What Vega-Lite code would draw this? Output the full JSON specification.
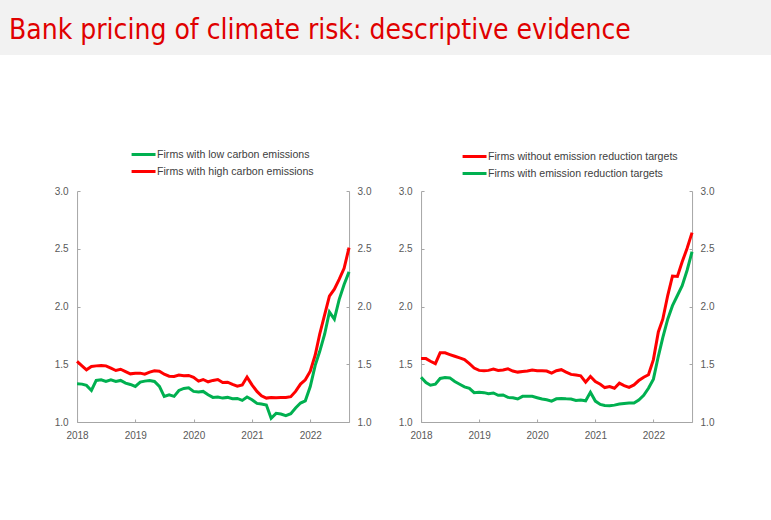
{
  "$schema": "https://vega.github.io/schema/vega-lite/v6.json",
  "background": "white",
  "padding": 0,
  "config": {
    "view": {"stroke": null},
    "font": "Liberation Sans",
    "axis": {
      "grid": false,
      "domainColor": "#a6a6a6",
      "tickColor": "#a6a6a6",
      "tickSize": -3,
      "labelColor": "#595959",
      "labelFontSize": 10,
      "labelFont": "Liberation Sans",
      "title": null
    },
    "legend": {
      "labelFont": "Liberation Sans",
      "labelFontSize": 10.6,
      "labelColor": "#404040",
      "symbolType": "M-1.33,0H1.33",
      "symbolSize": 324,
      "symbolStrokeWidth": 3,
      "labelOffset": 3,
      "rowPadding": 0,
      "padding": 0,
      "title": null,
      "labelLimit": 300
    }
  },
  "datasets": {
    "carbon": [
      {"date": "2018-01-01", "series": "Firms with high carbon emissions", "value": 1.524},
      {"date": "2018-02-01", "series": "Firms with high carbon emissions", "value": 1.486},
      {"date": "2018-03-01", "series": "Firms with high carbon emissions", "value": 1.452},
      {"date": "2018-04-01", "series": "Firms with high carbon emissions", "value": 1.48},
      {"date": "2018-05-01", "series": "Firms with high carbon emissions", "value": 1.486},
      {"date": "2018-06-01", "series": "Firms with high carbon emissions", "value": 1.49},
      {"date": "2018-07-01", "series": "Firms with high carbon emissions", "value": 1.486},
      {"date": "2018-08-01", "series": "Firms with high carbon emissions", "value": 1.466},
      {"date": "2018-09-01", "series": "Firms with high carbon emissions", "value": 1.446},
      {"date": "2018-10-01", "series": "Firms with high carbon emissions", "value": 1.457},
      {"date": "2018-11-01", "series": "Firms with high carbon emissions", "value": 1.437},
      {"date": "2018-12-01", "series": "Firms with high carbon emissions", "value": 1.417},
      {"date": "2019-01-01", "series": "Firms with high carbon emissions", "value": 1.423},
      {"date": "2019-02-01", "series": "Firms with high carbon emissions", "value": 1.423},
      {"date": "2019-03-01", "series": "Firms with high carbon emissions", "value": 1.414},
      {"date": "2019-04-01", "series": "Firms with high carbon emissions", "value": 1.432},
      {"date": "2019-05-01", "series": "Firms with high carbon emissions", "value": 1.443},
      {"date": "2019-06-01", "series": "Firms with high carbon emissions", "value": 1.44},
      {"date": "2019-07-01", "series": "Firms with high carbon emissions", "value": 1.414},
      {"date": "2019-08-01", "series": "Firms with high carbon emissions", "value": 1.397},
      {"date": "2019-09-01", "series": "Firms with high carbon emissions", "value": 1.394},
      {"date": "2019-10-01", "series": "Firms with high carbon emissions", "value": 1.406},
      {"date": "2019-11-01", "series": "Firms with high carbon emissions", "value": 1.4},
      {"date": "2019-12-01", "series": "Firms with high carbon emissions", "value": 1.403},
      {"date": "2020-01-01", "series": "Firms with high carbon emissions", "value": 1.386},
      {"date": "2020-02-01", "series": "Firms with high carbon emissions", "value": 1.354},
      {"date": "2020-03-01", "series": "Firms with high carbon emissions", "value": 1.368},
      {"date": "2020-04-01", "series": "Firms with high carbon emissions", "value": 1.348},
      {"date": "2020-05-01", "series": "Firms with high carbon emissions", "value": 1.36},
      {"date": "2020-06-01", "series": "Firms with high carbon emissions", "value": 1.368},
      {"date": "2020-07-01", "series": "Firms with high carbon emissions", "value": 1.342},
      {"date": "2020-08-01", "series": "Firms with high carbon emissions", "value": 1.345},
      {"date": "2020-09-01", "series": "Firms with high carbon emissions", "value": 1.325},
      {"date": "2020-10-01", "series": "Firms with high carbon emissions", "value": 1.31},
      {"date": "2020-11-01", "series": "Firms with high carbon emissions", "value": 1.32},
      {"date": "2020-12-01", "series": "Firms with high carbon emissions", "value": 1.389},
      {"date": "2021-01-01", "series": "Firms with high carbon emissions", "value": 1.322},
      {"date": "2021-02-01", "series": "Firms with high carbon emissions", "value": 1.265},
      {"date": "2021-03-01", "series": "Firms with high carbon emissions", "value": 1.227},
      {"date": "2021-04-01", "series": "Firms with high carbon emissions", "value": 1.207},
      {"date": "2021-05-01", "series": "Firms with high carbon emissions", "value": 1.213},
      {"date": "2021-06-01", "series": "Firms with high carbon emissions", "value": 1.21},
      {"date": "2021-07-01", "series": "Firms with high carbon emissions", "value": 1.213},
      {"date": "2021-08-01", "series": "Firms with high carbon emissions", "value": 1.213},
      {"date": "2021-09-01", "series": "Firms with high carbon emissions", "value": 1.219},
      {"date": "2021-10-01", "series": "Firms with high carbon emissions", "value": 1.265},
      {"date": "2021-11-01", "series": "Firms with high carbon emissions", "value": 1.328},
      {"date": "2021-12-01", "series": "Firms with high carbon emissions", "value": 1.365},
      {"date": "2022-01-01", "series": "Firms with high carbon emissions", "value": 1.44},
      {"date": "2022-02-01", "series": "Firms with high carbon emissions", "value": 1.58},
      {"date": "2022-03-01", "series": "Firms with high carbon emissions", "value": 1.76},
      {"date": "2022-04-01", "series": "Firms with high carbon emissions", "value": 1.927},
      {"date": "2022-05-01", "series": "Firms with high carbon emissions", "value": 2.09},
      {"date": "2022-06-01", "series": "Firms with high carbon emissions", "value": 2.15},
      {"date": "2022-07-01", "series": "Firms with high carbon emissions", "value": 2.235},
      {"date": "2022-08-01", "series": "Firms with high carbon emissions", "value": 2.33},
      {"date": "2022-09-01", "series": "Firms with high carbon emissions", "value": 2.51},
      {"date": "2018-01-01", "series": "Firms with low carbon emissions", "value": 1.331},
      {"date": "2018-02-01", "series": "Firms with low carbon emissions", "value": 1.328},
      {"date": "2018-03-01", "series": "Firms with low carbon emissions", "value": 1.317},
      {"date": "2018-04-01", "series": "Firms with low carbon emissions", "value": 1.273},
      {"date": "2018-05-01", "series": "Firms with low carbon emissions", "value": 1.36},
      {"date": "2018-06-01", "series": "Firms with low carbon emissions", "value": 1.365},
      {"date": "2018-07-01", "series": "Firms with low carbon emissions", "value": 1.351},
      {"date": "2018-08-01", "series": "Firms with low carbon emissions", "value": 1.365},
      {"date": "2018-09-01", "series": "Firms with low carbon emissions", "value": 1.351},
      {"date": "2018-10-01", "series": "Firms with low carbon emissions", "value": 1.36},
      {"date": "2018-11-01", "series": "Firms with low carbon emissions", "value": 1.337},
      {"date": "2018-12-01", "series": "Firms with low carbon emissions", "value": 1.325},
      {"date": "2019-01-01", "series": "Firms with low carbon emissions", "value": 1.308},
      {"date": "2019-02-01", "series": "Firms with low carbon emissions", "value": 1.345},
      {"date": "2019-03-01", "series": "Firms with low carbon emissions", "value": 1.354},
      {"date": "2019-04-01", "series": "Firms with low carbon emissions", "value": 1.36},
      {"date": "2019-05-01", "series": "Firms with low carbon emissions", "value": 1.351},
      {"date": "2019-06-01", "series": "Firms with low carbon emissions", "value": 1.308},
      {"date": "2019-07-01", "series": "Firms with low carbon emissions", "value": 1.222},
      {"date": "2019-08-01", "series": "Firms with low carbon emissions", "value": 1.236},
      {"date": "2019-09-01", "series": "Firms with low carbon emissions", "value": 1.222},
      {"date": "2019-10-01", "series": "Firms with low carbon emissions", "value": 1.273},
      {"date": "2019-11-01", "series": "Firms with low carbon emissions", "value": 1.291},
      {"date": "2019-12-01", "series": "Firms with low carbon emissions", "value": 1.296},
      {"date": "2020-01-01", "series": "Firms with low carbon emissions", "value": 1.265},
      {"date": "2020-02-01", "series": "Firms with low carbon emissions", "value": 1.259},
      {"date": "2020-03-01", "series": "Firms with low carbon emissions", "value": 1.265},
      {"date": "2020-04-01", "series": "Firms with low carbon emissions", "value": 1.236},
      {"date": "2020-05-01", "series": "Firms with low carbon emissions", "value": 1.213},
      {"date": "2020-06-01", "series": "Firms with low carbon emissions", "value": 1.216},
      {"date": "2020-07-01", "series": "Firms with low carbon emissions", "value": 1.207},
      {"date": "2020-08-01", "series": "Firms with low carbon emissions", "value": 1.213},
      {"date": "2020-09-01", "series": "Firms with low carbon emissions", "value": 1.201},
      {"date": "2020-10-01", "series": "Firms with low carbon emissions", "value": 1.204},
      {"date": "2020-11-01", "series": "Firms with low carbon emissions", "value": 1.187},
      {"date": "2020-12-01", "series": "Firms with low carbon emissions", "value": 1.216},
      {"date": "2021-01-01", "series": "Firms with low carbon emissions", "value": 1.193},
      {"date": "2021-02-01", "series": "Firms with low carbon emissions", "value": 1.161},
      {"date": "2021-03-01", "series": "Firms with low carbon emissions", "value": 1.155},
      {"date": "2021-04-01", "series": "Firms with low carbon emissions", "value": 1.147},
      {"date": "2021-05-01", "series": "Firms with low carbon emissions", "value": 1.032},
      {"date": "2021-06-01", "series": "Firms with low carbon emissions", "value": 1.075},
      {"date": "2021-07-01", "series": "Firms with low carbon emissions", "value": 1.069},
      {"date": "2021-08-01", "series": "Firms with low carbon emissions", "value": 1.055},
      {"date": "2021-09-01", "series": "Firms with low carbon emissions", "value": 1.072},
      {"date": "2021-10-01", "series": "Firms with low carbon emissions", "value": 1.121},
      {"date": "2021-11-01", "series": "Firms with low carbon emissions", "value": 1.164},
      {"date": "2021-12-01", "series": "Firms with low carbon emissions", "value": 1.183},
      {"date": "2022-01-01", "series": "Firms with low carbon emissions", "value": 1.307},
      {"date": "2022-02-01", "series": "Firms with low carbon emissions", "value": 1.49},
      {"date": "2022-03-01", "series": "Firms with low carbon emissions", "value": 1.61},
      {"date": "2022-04-01", "series": "Firms with low carbon emissions", "value": 1.76},
      {"date": "2022-05-01", "series": "Firms with low carbon emissions", "value": 1.952},
      {"date": "2022-06-01", "series": "Firms with low carbon emissions", "value": 1.89},
      {"date": "2022-07-01", "series": "Firms with low carbon emissions", "value": 2.06},
      {"date": "2022-08-01", "series": "Firms with low carbon emissions", "value": 2.19},
      {"date": "2022-09-01", "series": "Firms with low carbon emissions", "value": 2.3}
    ],
    "targets": [
      {"date": "2018-01-01", "series": "Firms without emission reduction targets", "value": 1.549},
      {"date": "2018-02-01", "series": "Firms without emission reduction targets", "value": 1.549},
      {"date": "2018-03-01", "series": "Firms without emission reduction targets", "value": 1.526},
      {"date": "2018-04-01", "series": "Firms without emission reduction targets", "value": 1.505},
      {"date": "2018-05-01", "series": "Firms without emission reduction targets", "value": 1.599},
      {"date": "2018-06-01", "series": "Firms without emission reduction targets", "value": 1.599},
      {"date": "2018-07-01", "series": "Firms without emission reduction targets", "value": 1.584},
      {"date": "2018-08-01", "series": "Firms without emission reduction targets", "value": 1.569},
      {"date": "2018-09-01", "series": "Firms without emission reduction targets", "value": 1.555},
      {"date": "2018-10-01", "series": "Firms without emission reduction targets", "value": 1.54},
      {"date": "2018-11-01", "series": "Firms without emission reduction targets", "value": 1.505},
      {"date": "2018-12-01", "series": "Firms without emission reduction targets", "value": 1.467},
      {"date": "2019-01-01", "series": "Firms without emission reduction targets", "value": 1.447},
      {"date": "2019-02-01", "series": "Firms without emission reduction targets", "value": 1.444},
      {"date": "2019-03-01", "series": "Firms without emission reduction targets", "value": 1.447},
      {"date": "2019-04-01", "series": "Firms without emission reduction targets", "value": 1.458},
      {"date": "2019-05-01", "series": "Firms without emission reduction targets", "value": 1.447},
      {"date": "2019-06-01", "series": "Firms without emission reduction targets", "value": 1.45},
      {"date": "2019-07-01", "series": "Firms without emission reduction targets", "value": 1.461},
      {"date": "2019-08-01", "series": "Firms without emission reduction targets", "value": 1.441},
      {"date": "2019-09-01", "series": "Firms without emission reduction targets", "value": 1.432},
      {"date": "2019-10-01", "series": "Firms without emission reduction targets", "value": 1.438},
      {"date": "2019-11-01", "series": "Firms without emission reduction targets", "value": 1.441},
      {"date": "2019-12-01", "series": "Firms without emission reduction targets", "value": 1.45},
      {"date": "2020-01-01", "series": "Firms without emission reduction targets", "value": 1.444},
      {"date": "2020-02-01", "series": "Firms without emission reduction targets", "value": 1.444},
      {"date": "2020-03-01", "series": "Firms without emission reduction targets", "value": 1.441},
      {"date": "2020-04-01", "series": "Firms without emission reduction targets", "value": 1.423},
      {"date": "2020-05-01", "series": "Firms without emission reduction targets", "value": 1.444},
      {"date": "2020-06-01", "series": "Firms without emission reduction targets", "value": 1.453},
      {"date": "2020-07-01", "series": "Firms without emission reduction targets", "value": 1.432},
      {"date": "2020-08-01", "series": "Firms without emission reduction targets", "value": 1.412},
      {"date": "2020-09-01", "series": "Firms without emission reduction targets", "value": 1.406},
      {"date": "2020-10-01", "series": "Firms without emission reduction targets", "value": 1.4},
      {"date": "2020-11-01", "series": "Firms without emission reduction targets", "value": 1.345},
      {"date": "2020-12-01", "series": "Firms without emission reduction targets", "value": 1.394},
      {"date": "2021-01-01", "series": "Firms without emission reduction targets", "value": 1.35},
      {"date": "2021-02-01", "series": "Firms without emission reduction targets", "value": 1.327},
      {"date": "2021-03-01", "series": "Firms without emission reduction targets", "value": 1.298},
      {"date": "2021-04-01", "series": "Firms without emission reduction targets", "value": 1.307},
      {"date": "2021-05-01", "series": "Firms without emission reduction targets", "value": 1.292},
      {"date": "2021-06-01", "series": "Firms without emission reduction targets", "value": 1.336},
      {"date": "2021-07-01", "series": "Firms without emission reduction targets", "value": 1.315},
      {"date": "2021-08-01", "series": "Firms without emission reduction targets", "value": 1.3},
      {"date": "2021-09-01", "series": "Firms without emission reduction targets", "value": 1.321},
      {"date": "2021-10-01", "series": "Firms without emission reduction targets", "value": 1.359},
      {"date": "2021-11-01", "series": "Firms without emission reduction targets", "value": 1.388},
      {"date": "2021-12-01", "series": "Firms without emission reduction targets", "value": 1.409},
      {"date": "2022-01-01", "series": "Firms without emission reduction targets", "value": 1.54},
      {"date": "2022-02-01", "series": "Firms without emission reduction targets", "value": 1.78},
      {"date": "2022-03-01", "series": "Firms without emission reduction targets", "value": 1.89},
      {"date": "2022-04-01", "series": "Firms without emission reduction targets", "value": 2.095},
      {"date": "2022-05-01", "series": "Firms without emission reduction targets", "value": 2.264},
      {"date": "2022-06-01", "series": "Firms without emission reduction targets", "value": 2.26},
      {"date": "2022-07-01", "series": "Firms without emission reduction targets", "value": 2.387},
      {"date": "2022-08-01", "series": "Firms without emission reduction targets", "value": 2.504},
      {"date": "2022-09-01", "series": "Firms without emission reduction targets", "value": 2.64},
      {"date": "2018-01-01", "series": "Firms with emission reduction targets", "value": 1.388},
      {"date": "2018-02-01", "series": "Firms with emission reduction targets", "value": 1.342},
      {"date": "2018-03-01", "series": "Firms with emission reduction targets", "value": 1.318},
      {"date": "2018-04-01", "series": "Firms with emission reduction targets", "value": 1.327},
      {"date": "2018-05-01", "series": "Firms with emission reduction targets", "value": 1.377},
      {"date": "2018-06-01", "series": "Firms with emission reduction targets", "value": 1.385},
      {"date": "2018-07-01", "series": "Firms with emission reduction targets", "value": 1.382},
      {"date": "2018-08-01", "series": "Firms with emission reduction targets", "value": 1.35},
      {"date": "2018-09-01", "series": "Firms with emission reduction targets", "value": 1.327},
      {"date": "2018-10-01", "series": "Firms with emission reduction targets", "value": 1.304},
      {"date": "2018-11-01", "series": "Firms with emission reduction targets", "value": 1.292},
      {"date": "2018-12-01", "series": "Firms with emission reduction targets", "value": 1.254},
      {"date": "2019-01-01", "series": "Firms with emission reduction targets", "value": 1.257},
      {"date": "2019-02-01", "series": "Firms with emission reduction targets", "value": 1.254},
      {"date": "2019-03-01", "series": "Firms with emission reduction targets", "value": 1.245},
      {"date": "2019-04-01", "series": "Firms with emission reduction targets", "value": 1.251},
      {"date": "2019-05-01", "series": "Firms with emission reduction targets", "value": 1.231},
      {"date": "2019-06-01", "series": "Firms with emission reduction targets", "value": 1.234},
      {"date": "2019-07-01", "series": "Firms with emission reduction targets", "value": 1.213},
      {"date": "2019-08-01", "series": "Firms with emission reduction targets", "value": 1.21},
      {"date": "2019-09-01", "series": "Firms with emission reduction targets", "value": 1.199},
      {"date": "2019-10-01", "series": "Firms with emission reduction targets", "value": 1.222},
      {"date": "2019-11-01", "series": "Firms with emission reduction targets", "value": 1.222},
      {"date": "2019-12-01", "series": "Firms with emission reduction targets", "value": 1.222},
      {"date": "2020-01-01", "series": "Firms with emission reduction targets", "value": 1.21},
      {"date": "2020-02-01", "series": "Firms with emission reduction targets", "value": 1.199},
      {"date": "2020-03-01", "series": "Firms with emission reduction targets", "value": 1.193},
      {"date": "2020-04-01", "series": "Firms with emission reduction targets", "value": 1.181},
      {"date": "2020-05-01", "series": "Firms with emission reduction targets", "value": 1.201},
      {"date": "2020-06-01", "series": "Firms with emission reduction targets", "value": 1.204},
      {"date": "2020-07-01", "series": "Firms with emission reduction targets", "value": 1.201},
      {"date": "2020-08-01", "series": "Firms with emission reduction targets", "value": 1.199},
      {"date": "2020-09-01", "series": "Firms with emission reduction targets", "value": 1.187},
      {"date": "2020-10-01", "series": "Firms with emission reduction targets", "value": 1.19},
      {"date": "2020-11-01", "series": "Firms with emission reduction targets", "value": 1.184},
      {"date": "2020-12-01", "series": "Firms with emission reduction targets", "value": 1.257},
      {"date": "2021-01-01", "series": "Firms with emission reduction targets", "value": 1.181},
      {"date": "2021-02-01", "series": "Firms with emission reduction targets", "value": 1.152},
      {"date": "2021-03-01", "series": "Firms with emission reduction targets", "value": 1.143},
      {"date": "2021-04-01", "series": "Firms with emission reduction targets", "value": 1.14},
      {"date": "2021-05-01", "series": "Firms with emission reduction targets", "value": 1.146},
      {"date": "2021-06-01", "series": "Firms with emission reduction targets", "value": 1.155},
      {"date": "2021-07-01", "series": "Firms with emission reduction targets", "value": 1.161},
      {"date": "2021-08-01", "series": "Firms with emission reduction targets", "value": 1.164},
      {"date": "2021-09-01", "series": "Firms with emission reduction targets", "value": 1.164},
      {"date": "2021-10-01", "series": "Firms with emission reduction targets", "value": 1.19},
      {"date": "2021-11-01", "series": "Firms with emission reduction targets", "value": 1.231},
      {"date": "2021-12-01", "series": "Firms with emission reduction targets", "value": 1.292},
      {"date": "2022-01-01", "series": "Firms with emission reduction targets", "value": 1.371},
      {"date": "2022-02-01", "series": "Firms with emission reduction targets", "value": 1.569},
      {"date": "2022-03-01", "series": "Firms with emission reduction targets", "value": 1.73},
      {"date": "2022-04-01", "series": "Firms with emission reduction targets", "value": 1.89},
      {"date": "2022-05-01", "series": "Firms with emission reduction targets", "value": 2.007},
      {"date": "2022-06-01", "series": "Firms with emission reduction targets", "value": 2.095},
      {"date": "2022-07-01", "series": "Firms with emission reduction targets", "value": 2.18},
      {"date": "2022-08-01", "series": "Firms with emission reduction targets", "value": 2.314},
      {"date": "2022-09-01", "series": "Firms with emission reduction targets", "value": 2.474}
    ]
  },
  "vconcat": [
    {
      "width": 791,
      "height": 55,
      "data": {"values": [{"title": "Bank pricing of climate risk: descriptive evidence"}]},
      "layer": [
        {
          "mark": {"type": "rect", "color": "#f2f2f2"},
          "encoding": {}
        },
        {
          "mark": {
            "type": "text",
            "align": "left",
            "baseline": "alphabetic",
            "font": "Liberation Sans Narrow, DejaVu Sans Condensed, Liberation Sans",
            "fontSize": 28,
            "color": "#e00000"
          },
          "encoding": {
            "text": {"field": "title"},
            "x": {"value": 9},
            "y": {"value": 39}
          }
        }
      ]
    },
    {
      "hconcat": [
        {
          "width": 272,
          "height": 231,
          "data": {"name": "carbon"},
          "layer": [
            {
              "mark": {"type": "line", "strokeWidth": 3},
              "encoding": {
                "x": {
                  "field": "date", "type": "temporal",
                  "scale": {"type": "utc", "domain": [{"year": 2018, "month": 1, "date": 1, "utc": true}, {"year": 2022, "month": 9, "date": 1, "utc": true}]},
                  "axis": {"format": "%Y", "tickCount": {"interval": "year", "step": 1}, "labelPadding": 11, "labelFlush": false}
                },
                "y": {
                  "field": "value", "type": "quantitative",
                  "scale": {"domain": [1, 3]},
                  "axis": {"orient": "left", "values": [1, 1.5, 2, 2.5, 3], "format": ".1f", "labelPadding": 12}
                },
                "color": {
                  "field": "series", "type": "nominal",
                  "scale": {"domain": ["Firms with low carbon emissions", "Firms with high carbon emissions"], "range": ["#00b050", "#ff0000"]},
                  "legend": {"orient": "none", "legendX": 56, "legendY": -47}
                }
              }
            },
            {
              "mark": {"type": "line", "strokeOpacity": 0},
              "encoding": {
                "x": {"field": "date", "type": "temporal"},
                "y": {
                  "field": "value", "type": "quantitative",
                  "axis": {"orient": "right", "values": [1, 1.5, 2, 2.5, 3], "format": ".1f", "labelPadding": 11}
                },
                "detail": {"field": "series"}
              }
            }
          ],
          "resolve": {"axis": {"y": "independent"}}
        },
        {
          "width": 271,
          "height": 231,
          "data": {"name": "targets"},
          "layer": [
            {
              "mark": {"type": "line", "strokeWidth": 3},
              "encoding": {
                "x": {
                  "field": "date", "type": "temporal",
                  "scale": {"type": "utc", "domain": [{"year": 2018, "month": 1, "date": 1, "utc": true}, {"year": 2022, "month": 9, "date": 1, "utc": true}]},
                  "axis": {"format": "%Y", "tickCount": {"interval": "year", "step": 1}, "labelPadding": 11, "labelFlush": false}
                },
                "y": {
                  "field": "value", "type": "quantitative",
                  "scale": {"domain": [1, 3]},
                  "axis": {"orient": "left", "values": [1, 1.5, 2, 2.5, 3], "format": ".1f", "labelPadding": 12}
                },
                "color": {
                  "field": "series", "type": "nominal",
                  "scale": {"domain": ["Firms without emission reduction targets", "Firms with emission reduction targets"], "range": ["#ff0000", "#00b050"]},
                  "legend": {"orient": "none", "legendX": 43, "legendY": -45}
                }
              }
            },
            {
              "mark": {"type": "line", "strokeOpacity": 0},
              "encoding": {
                "x": {"field": "date", "type": "temporal"},
                "y": {
                  "field": "value", "type": "quantitative",
                  "axis": {"orient": "right", "values": [1, 1.5, 2, 2.5, 3], "format": ".1f", "labelPadding": 11}
                },
                "detail": {"field": "series"}
              }
            }
          ],
          "resolve": {"axis": {"y": "independent"}}
        }
      ],
      "spacing": 27,
      "resolve": {"scale": {"color": "independent"}, "legend": {"color": "independent"}}
    }
  ],
  "spacing": 89,
  "center": true
}
